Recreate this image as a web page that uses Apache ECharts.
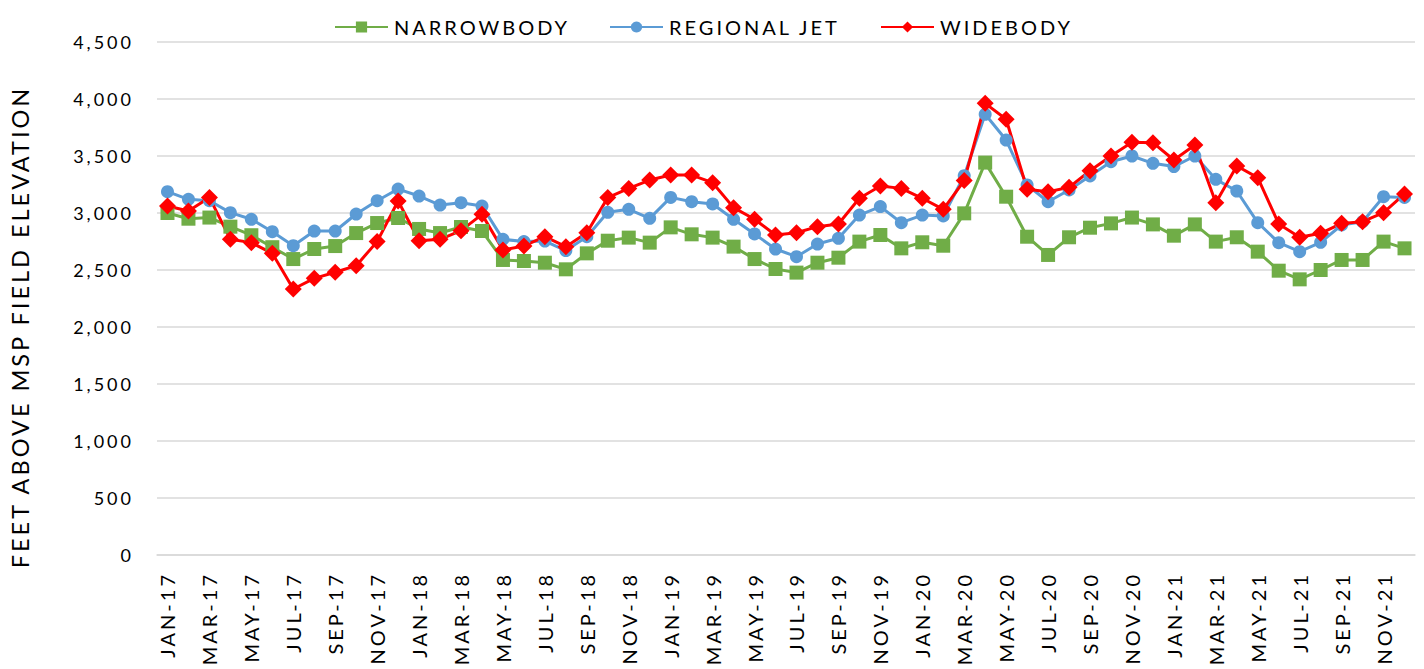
<!DOCTYPE html>
<html>
<head>
<meta charset="utf-8">
<script src="https://cdn.jsdelivr.net/npm/echarts@6/dist/echarts.min.js"></script>
<style>
    html, body { margin: 0; padding: 0; background: #fff; }
    #container { width: 1424px; height: 669px; }
    /* Excel-style tracked lettering */
    #container text { letter-spacing: 3px; }
</style>
</head>
<body>
<div id="container"></div>
<script>
var MONTHS = ['JAN', 'FEB', 'MAR', 'APR', 'MAY', 'JUN', 'JUL', 'AUG', 'SEP', 'OCT', 'NOV', 'DEC'];
var YEARS = ['17', '18', '19', '20', '21'];

var narrowbody = [
    3000, 2950, 2960, 2880, 2805, 2700, 2596, 2684, 2710, 2824, 2912, 2956,
    2860, 2824, 2877, 2842, 2588, 2579, 2564, 2506, 2646, 2757, 2784, 2740,
    2874, 2813, 2784, 2705, 2596, 2509, 2477, 2564, 2608, 2749, 2807, 2690,
    2743, 2713, 2997, 3442, 3143, 2792, 2632, 2787, 2871, 2909, 2960, 2900,
    2801, 2900, 2749, 2787, 2661, 2494, 2418, 2500, 2588, 2588, 2749, 2690
];
var regionalJet = [
    3187, 3120, 3108, 3003, 2945, 2836, 2713, 2842, 2842, 2991, 3108, 3210,
    3149, 3070, 3090, 3061, 2769, 2749, 2754, 2670, 2792, 3006, 3032, 2953,
    3137, 3099, 3079, 2945, 2816, 2684, 2617, 2728, 2778, 2982, 3056, 2915,
    2982, 2974, 3327, 3866, 3640, 3246, 3099, 3202, 3325, 3450, 3500, 3436,
    3407, 3500, 3295, 3193, 2915, 2740, 2661, 2743, 2895, 2924, 3143, 3137
];
var widebody = [
    3061, 3017, 3137, 2769, 2740, 2646, 2333, 2427, 2480, 2538, 2749, 3105,
    2757, 2769, 2845, 2988, 2675, 2711, 2792, 2705, 2827, 3135, 3216, 3289,
    3333, 3333, 3266, 3047, 2945, 2807, 2827, 2880, 2904, 3129, 3237, 3216,
    3129, 3032, 3284, 3962, 3822, 3208, 3187, 3225, 3371, 3500, 3620, 3617,
    3465, 3596, 3090, 3412, 3310, 2904, 2787, 2822, 2909, 2924, 3003, 3167
];

var categories = [];
YEARS.forEach(function(y) {
    MONTHS.forEach(function(m) {
        categories.push(m + '-' + y);
    });
});

var FONT = 'Lato';
var dom = document.getElementById('container');
var myChart = echarts.init(dom, null, { renderer: 'svg' });

function legendAt(name, left) {
    return {
        data: [name],
        left: left,
        top: 12,
        itemWidth: 53,
        itemHeight: 14,
        itemGap: 0,
        selectedMode: false,
        textStyle: { fontFamily: FONT, fontSize: 20, color: '#000', padding: [0, 0, 0, 1] }
    };
}

myChart.setOption({
    animation: false,
    backgroundColor: '#fff',
    legend: [
        legendAt('NARROWBODY', 329),
        legendAt('REGIONAL JET', 604),
        legendAt('WIDEBODY', 875)
    ],
    grid: {
        left: 157,
        right: 9,
        top: 42,
        bottom: 114
    },
    xAxis: {
        type: 'category',
        data: categories,
        boundaryGap: true,
        axisLine: { lineStyle: { color: '#D9D9D9', width: 1.5 } },
        axisTick: { show: false },
        axisLabel: {
            interval: 1,
            rotate: 90,
            margin: 17,
            fontFamily: FONT,
            fontSize: 20,
            color: '#000'
        }
    },
    yAxis: {
        type: 'value',
        min: 0,
        max: 4500,
        interval: 500,
        axisLine: { show: false },
        axisTick: { show: false },
        splitLine: { lineStyle: { color: '#D9D9D9', width: 1.5 } },
        axisLabel: {
            margin: 23,
            fontFamily: FONT,
            fontSize: 18,
            color: '#000',
            formatter: function(v) {
                return v.toLocaleString('en-US');
            }
        }
    },
    graphic: [{
        type: 'text',
        x: 20,
        y: 327,
        rotation: Math.PI / 2,
        style: {
            text: 'FEET ABOVE MSP FIELD ELEVATION',
            fontFamily: FONT,
            fontSize: 23.5,
            fill: '#000',
            align: 'center',
            verticalAlign: 'middle'
        }
    }],
    series: [{
        name: 'NARROWBODY',
        type: 'line',
        data: narrowbody,
        symbol: 'rect',
        symbolSize: 14,
        showAllSymbol: true,
        lineStyle: { color: '#70AD47', width: 3 },
        itemStyle: { color: '#70AD47' }
    }, {
        name: 'REGIONAL JET',
        type: 'line',
        data: regionalJet,
        symbol: 'circle',
        symbolSize: 13,
        showAllSymbol: true,
        lineStyle: { color: '#5B9BD5', width: 3 },
        itemStyle: { color: '#5B9BD5' }
    }, {
        name: 'WIDEBODY',
        type: 'line',
        data: widebody,
        symbol: 'diamond',
        symbolSize: [17, 17],
        showAllSymbol: true,
        lineStyle: { color: '#FF0000', width: 3 },
        itemStyle: { color: '#FF0000' }
    }]
});
</script>
</body>
</html>
